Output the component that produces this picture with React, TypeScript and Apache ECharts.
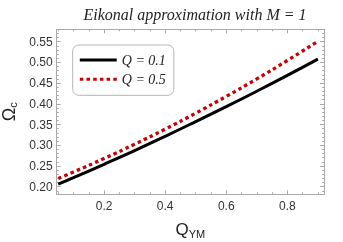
import React, { useEffect, useRef } from "react";
import * as echarts from "echarts";

const qYM = [0.05, 0.1, 0.2, 0.3, 0.4, 0.5, 0.6, 0.7, 0.8, 0.9];
const omegaQ01 = [0.206, 0.2218, 0.2542, 0.2874, 0.3217, 0.3571, 0.3933, 0.4305, 0.4687, 0.508];
const omegaQ05 = [0.22, 0.2356, 0.2681, 0.3026, 0.339, 0.3775, 0.418, 0.4603, 0.5047, 0.551];

const xMajor = [0.2, 0.4, 0.6, 0.8];
const xMinor = [0.05, 0.1, 0.15, 0.25, 0.3, 0.35, 0.45, 0.5, 0.55, 0.65, 0.7, 0.75, 0.85, 0.9];
const yMajor = [0.2, 0.25, 0.3, 0.35, 0.4, 0.45, 0.5, 0.55];
const yMinor = [
  0.19, 0.21, 0.22, 0.23, 0.24, 0.26, 0.27, 0.28, 0.29, 0.31, 0.32, 0.33, 0.34,
  0.36, 0.37, 0.38, 0.39, 0.41, 0.42, 0.43, 0.44, 0.46, 0.47, 0.48, 0.49, 0.51,
  0.52, 0.53, 0.54, 0.56, 0.57,
];

const X_MIN = 0.045;
const X_MAX = 0.92;
const Y_MIN = 0.1817;
const Y_MAX = 0.58;

const FRAME = "#aaaaaa";
const LABEL = "#333333";

export default function App() {
  const ref = useRef<HTMLDivElement>(null);
  useEffect(() => {
    if (!ref.current) return;
    const chart = echarts.init(ref.current, null, { renderer: "svg" });

    const mkX = (pos: string, ticks: number[], len: number, labels: boolean, showLine: boolean, extra: any = {}) => ({
      type: "value",
      position: pos,
      min: X_MIN,
      max: X_MAX,
      splitLine: { show: false },
      axisLine: { show: showLine, onZero: false, lineStyle: { color: FRAME, width: 1 } },
      axisTick: { show: true, inside: true, length: len, customValues: ticks, lineStyle: { color: FRAME } },
      axisLabel: labels
        ? { show: true, customValues: xMajor, margin: 6, color: LABEL, fontFamily: "Liberation Sans", fontSize: 12, formatter: (v: number) => v.toFixed(1) }
        : { show: false },
      ...extra,
    });
    const mkY = (pos: string, ticks: number[], len: number, labels: boolean, showLine: boolean, extra: any = {}) => ({
      type: "value",
      position: pos,
      min: Y_MIN,
      max: Y_MAX,
      splitLine: { show: false },
      axisLine: { show: showLine, onZero: false, lineStyle: { color: FRAME, width: 1 } },
      axisTick: { show: true, inside: true, length: len, customValues: ticks, lineStyle: { color: FRAME } },
      axisLabel: labels
        ? { show: true, customValues: yMajor, margin: 4, color: LABEL, fontFamily: "Liberation Sans", fontSize: 12, formatter: (v: number) => v.toFixed(2) }
        : { show: false },
      ...extra,
    });

    chart.setOption({
      animation: false,
      title: {
        text: "Eikonal approximation with M = 1",
        left: 190,
        top: 1,
        textAlign: "center",
        textStyle: { fontFamily: "Liberation Serif", fontStyle: "italic", fontWeight: "normal", fontSize: 16, color: "#222" },
      },
      grid: { left: 56.7, right: 19, top: 29.3, bottom: 47.7, containLabel: false, outerBoundsMode: "none" },
      legend: {
        orient: "vertical",
        left: 72.7,
        top: 45,
        padding: [8, 8, 9, 5.6],
        itemWidth: 37,
        itemHeight: 14,
        itemGap: 5.3,
        borderColor: "#b5b5b5",
        borderWidth: 1,
        borderRadius: 6,
        itemStyle: { opacity: 0 },
        lineStyle: { width: 3 },
        textStyle: { fontFamily: "Liberation Serif", fontStyle: "italic", fontSize: 14, color: "#222" },
        data: ["Q = 0.1", "Q = 0.5"],
      },
      xAxis: [
        mkX("bottom", xMajor, 4, true, true, {
          name: "{a|Q}{b|YM}",
          nameLocation: "middle",
          nameGap: 25,
          nameTextStyle: {
            rich: {
              a: { fontFamily: "Liberation Sans", fontSize: 17, color: "#222", lineHeight: 20 },
              b: { fontFamily: "Liberation Sans", fontSize: 11, color: "#222", lineHeight: 12, verticalAlign: "bottom" },
            },
          },
        }),
        mkX("bottom", xMinor, 2, false, false),
        mkX("top", xMajor, 4, false, true),
        mkX("top", xMinor, 2, false, false),
      ],
      yAxis: [
        mkY("left", yMajor, 4, true, true, {
          name: "{a|Ω}{b|c}",
          nameLocation: "middle",
          nameGap: 36,
          nameTextStyle: {
            rich: {
              a: { fontFamily: "Liberation Sans", fontSize: 18, color: "#222", lineHeight: 18 },
              b: { fontFamily: "Liberation Sans", fontSize: 11, color: "#222", lineHeight: 11, verticalAlign: "bottom" },
            },
          },
        }),
        mkY("left", yMinor, 2, false, false),
        mkY("right", yMajor, 4, false, true),
        mkY("right", yMinor, 2, false, false),
      ],
      series: [
        {
          name: "Q = 0.1",
          type: "line",
          xAxisIndex: 0,
          yAxisIndex: 0,
          data: qYM.map((q, i) => [q, omegaQ01[i]]),
          smooth: 0.5,
          showSymbol: false,
          symbol: "none",
          lineStyle: { color: "#000000", width: 3 },
          itemStyle: { color: "#000000" },
        },
        {
          name: "Q = 0.5",
          type: "line",
          xAxisIndex: 0,
          yAxisIndex: 0,
          data: qYM.map((q, i) => [q, omegaQ05[i]]),
          smooth: 0.5,
          showSymbol: false,
          symbol: "none",
          lineStyle: { color: "#c80000", width: 3.3, type: [3.5, 3.2] },
          itemStyle: { color: "#c80000" },
        },
      ],
    });
    return () => chart.dispose();
  }, []);
  return <div ref={ref} style={{ position: "fixed", left: 0, top: 0, width: 343, height: 242 }} />;
}
